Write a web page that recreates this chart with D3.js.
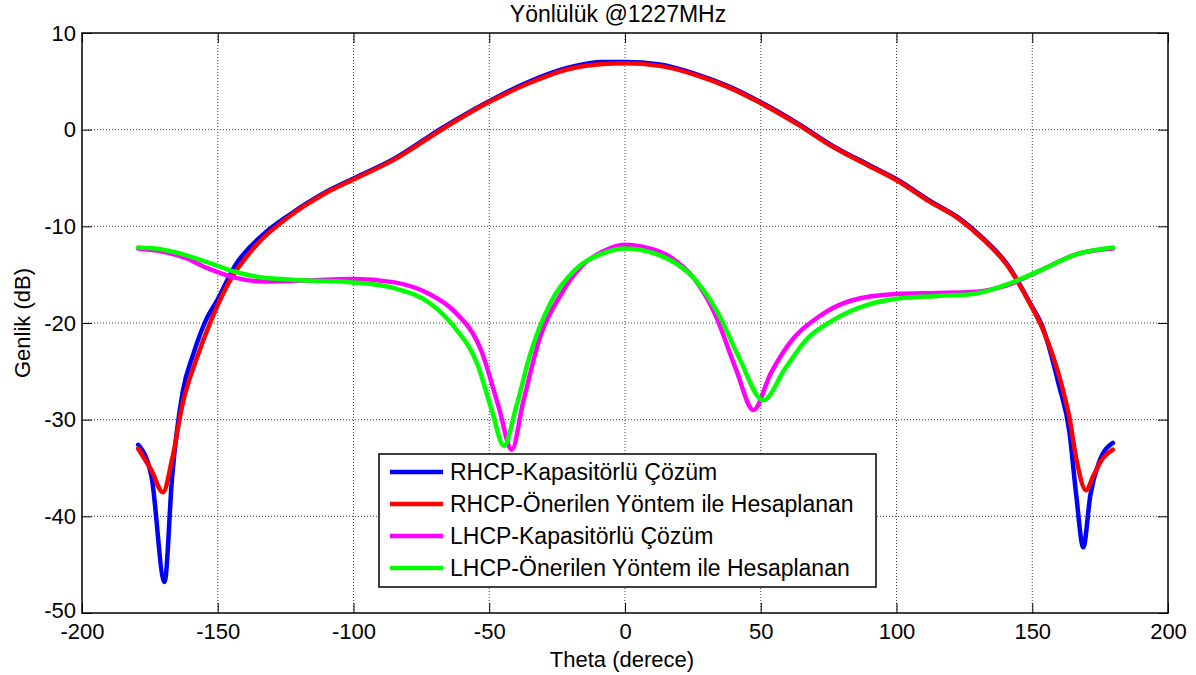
<!DOCTYPE html>
<html>
<head>
<meta charset="utf-8">
<script src="https://cdn.jsdelivr.net/npm/d3@7"></script>
<style>
  body { margin: 0; background: #fff; }
  svg { font-family: "Liberation Sans", Arial, sans-serif; }
</style>
</head>
<body>
<svg width="1196" height="675"></svg>
<script>
// Veriler (okunan değerler)
const rhcpKapTheta = [-179.3, -174.4, -169.6, -166.8, -162.9, -159.1, -154, -150.1, -143.7, -133.5, -123.3, -110.5, -100.4, -85, -67, -50.4, -35, -21, -8.2, 0,
                      12.8, 25.6, 38.4, 49.6, 63.9, 76.7, 89.5, 99.9, 112.5, 122.8, 131.7, 140.7, 149.9, 153.5, 159.8, 163.7, 166.2, 168.8, 171.4, 174.6, 179.7];
const rhcpKapVal   = [-32.6, -35.9, -46.8, -35.9, -27.1, -23.3, -19.5, -17.6, -14.1, -10.9, -8.75, -6.5, -5.1, -3.0, 0.24, 2.9, 5.0, 6.4, 7.0, 7.0,
                      6.75, 5.8, 4.45, 2.9, 0.6, -1.7, -3.6, -5.1, -7.4, -9.1, -11.2, -13.9, -18.3, -20.2, -26.4, -31.3, -37.8, -43.2, -37.8, -34.4, -32.4];

const rhcpOnTheta  = [-179.3, -174.5, -170.2, -166.8, -162.9, -157.8, -152.7, -146.3, -136, -123.3, -110.5, -100.4, -85, -67, -50.4, -35, -21, -8.2, 0,
                      12.8, 25.6, 38.4, 49.6, 63.9, 76.7, 89.5, 99.9, 112.5, 122.8, 131.7, 140.7, 149.9, 153.5, 161.1, 163.7, 166.2, 169.8, 172.5, 175.5, 179.7];
const rhcpOnVal    = [-33.0, -35.2, -37.5, -34.1, -28.3, -23.7, -19.9, -16.0, -12.0, -8.9, -6.6, -5.2, -3.1, 0.1, 2.8, 4.85, 6.25, 6.8, 6.86,
                      6.6, 5.7, 4.35, 2.8, 0.5, -1.8, -3.7, -5.2, -7.5, -9.2, -11.3, -14.0, -18.4, -20.4, -26.7, -29.8, -34.0, -37.3, -35.8, -34.2, -33.1];

const lhcpKapTheta = [-179.3, -170.6, -161.6, -154, -143.7, -133.5, -116.9, -100.4, -85, -72.1, -63.2, -52.9, -46.5, -41.7, -37.6, -31.2, -23.5, -15.9, -8.2, 0,
                      6.4, 16.6, 25.6, 33.2, 40.9, 47.3, 53.7, 61.4, 71.6, 83.1, 99.9, 115, 127.9, 140.7, 153.5, 166.2, 179.7];
const lhcpKapVal   = [-12.3, -12.6, -13.3, -14.3, -15.3, -15.7, -15.6, -15.45, -15.8, -17.0, -18.7, -22.9, -28.7, -33.1, -28.3, -21.4, -17.0, -14.1, -12.6, -11.9,
                      -12.1, -13.15, -15.45, -19.1, -24.8, -29.0, -25.2, -21.8, -19.3, -17.7, -17.0, -16.9, -16.8, -16.1, -14.5, -12.9, -12.3];

const lhcpOnTheta  = [-179.3, -170.6, -161.6, -154, -143.7, -133.5, -116.9, -100.4, -85, -72.1, -63.2, -54.2, -49.1, -44.6, -40.1, -35.0, -27.4, -18.4, -8.2, 0,
                      12.8, 25.6, 34.5, 42.2, 50.9, 58.8, 66.5, 76.7, 89.5, 99.9, 115, 127.9, 140.7, 153.5, 166.2, 179.7];
const lhcpOnVal    = [-12.2, -12.4, -13.0, -13.7, -14.7, -15.3, -15.6, -15.8, -16.4, -17.9, -20.3, -24.4, -29.0, -32.7, -28.7, -23.3, -17.9, -14.5, -12.8, -12.3,
                      -13.0, -15.45, -19.1, -23.7, -28.0, -24.8, -21.8, -19.7, -18.1, -17.5, -17.2, -17.0, -16.0, -14.5, -12.9, -12.2];

const seriesNames  = ["RHCP-Kapasitörlü Çözüm", "RHCP-Önerilen Yöntem ile Hesaplanan",
                      "LHCP-Kapasitörlü Çözüm", "LHCP-Önerilen Yöntem ile Hesaplanan"];
const seriesColors = ["#0000ff", "#ff0000", "#ff00ff", "#00ff00"];
const xTicks = [-200, -150, -100, -50, 0, 50, 100, 150, 200];
const yTicks = [-50, -40, -30, -20, -10, 0, 10];

const series = [
  d3.zip(rhcpKapTheta, rhcpKapVal),
  d3.zip(rhcpOnTheta, rhcpOnVal),
  d3.zip(lhcpKapTheta, lhcpKapVal),
  d3.zip(lhcpOnTheta, lhcpOnVal)
];

const svg = d3.select("svg"),
      margin = { top: 33, right: 28, bottom: 62, left: 82 },
      width = 1196 - margin.left - margin.right,
      height = 675 - margin.top - margin.bottom;

const chart = svg.append("g")
    .attr("transform", `translate(${margin.left},${margin.top})`);

const x = d3.scaleLinear().domain([-200, 200]).range([0, width]);
const y = d3.scaleLinear().domain([-50, 10]).range([height, 0]);

// Izgara
chart.append("g").selectAll("line")
    .data(xTicks.slice(1, -1))
    .join("line")
    .attr("x1", d => x(d)).attr("x2", d => x(d))
    .attr("y1", 0).attr("y2", height)
    .attr("stroke", "#444").attr("stroke-dasharray", "1,2");
chart.append("g").selectAll("line")
    .data(yTicks.slice(1, -1))
    .join("line")
    .attr("y1", d => y(d)).attr("y2", d => y(d))
    .attr("x1", 0).attr("x2", width)
    .attr("stroke", "#444").attr("stroke-dasharray", "1,2");

// Eksenler (içe dönük çentikler)
const tl = 10;
const fontSize = 22;
const fmt = d => String(d); // MATLAB tarzı kısa çizgi
const xAxis = chart.append("g")
    .attr("transform", `translate(0,${height})`)
    .call(d3.axisBottom(x).tickValues(xTicks).tickFormat(fmt).tickSizeInner(-tl).tickSizeOuter(0).tickPadding(tl + 4));
const yAxis = chart.append("g")
    .call(d3.axisLeft(y).tickValues(yTicks).tickFormat(fmt).tickSizeInner(-tl).tickSizeOuter(0).tickPadding(6));
chart.append("g")
    .call(d3.axisTop(x).tickValues(xTicks).tickSizeInner(-tl).tickSizeOuter(0).tickFormat(""));
chart.append("g")
    .attr("transform", `translate(${width},0)`)
    .call(d3.axisRight(y).tickValues(yTicks).tickSizeInner(-tl).tickSizeOuter(0).tickFormat(""));

chart.selectAll(".domain").remove();
chart.selectAll(".tick line").attr("stroke", "#000");
chart.selectAll(".tick text")
    .attr("font-family", "Liberation Sans, Arial, sans-serif")
    .attr("font-size", fontSize)
    .attr("fill", "#000");
xAxis.selectAll(".tick text").attr("dy", "0.55em");
// -50 etiketi -200 ile çakışmasın diye biraz yukarı
yAxis.selectAll(".tick text").filter(d => d === -50).attr("dy", "0.2em");

chart.append("rect")
    .attr("width", width).attr("height", height)
    .attr("fill", "none").attr("stroke", "#000").attr("stroke-width", 1.5);

// Eğriler
const line = d3.line()
    .x(d => x(d[0]))
    .y(d => y(d[1]))
    .curve(d3.curveMonotoneX);

chart.selectAll(".curve")
    .data(series)
    .join("path")
    .attr("class", "curve")
    .attr("d", line)
    .attr("fill", "none")
    .attr("stroke", (d, i) => seriesColors[i])
    .attr("stroke-width", 4.5)
    .attr("stroke-linejoin", "round")
    .attr("stroke-linecap", "round");

// Başlık ve eksen etiketleri
svg.append("text")
    .attr("x", margin.left + width / 2 - 7).attr("y", 22)
    .attr("text-anchor", "middle").attr("font-size", 23)
    .text("Yönlülük @1227MHz");

svg.append("text")
    .attr("x", margin.left + width / 2 - 3).attr("y", 667)
    .attr("text-anchor", "middle").attr("font-size", 22)
    .text("Theta (derece)");

svg.append("text")
    .attr("transform", `translate(30,${margin.top + height / 2}) rotate(-90)`)
    .attr("text-anchor", "middle").attr("font-size", 22)
    .text("Genlik (dB)");

// Gösterge
const legend = svg.append("g").attr("transform", "translate(379,454)");
legend.append("rect")
    .attr("width", 497).attr("height", 133)
    .attr("fill", "#fff").attr("stroke", "#000").attr("stroke-width", 1.5);

const items = legend.selectAll(".item")
    .data(seriesNames)
    .join("g")
    .attr("class", "item")
    .attr("transform", (d, i) => `translate(0,${18 + i * 32})`);

items.append("line")
    .attr("x1", 11).attr("x2", 64)
    .attr("stroke", (d, i) => seriesColors[i])
    .attr("stroke-width", 4.5);

items.append("text")
    .attr("x", 71).attr("dy", "0.36em")
    .attr("font-size", 23)
    .text(d => d);
</script>
</body>
</html>
